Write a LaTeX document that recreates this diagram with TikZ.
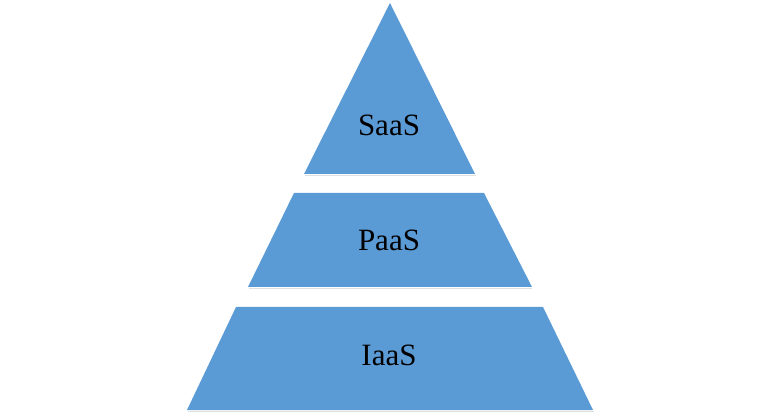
\documentclass[tikz,border=0pt]{standalone}
\usepackage{fontspec}
\setmainfont{Liberation Serif}
\definecolor{tierblue}{HTML}{5B9BD5}
\begin{document}
\begin{tikzpicture}[x=1pt,y=-1pt,
  tier/.style={fill=tierblue,draw=none},
  lbl/.style={font=\fontsize{31}{36}\selectfont,text=black}]
\useasboundingbox (0,0) rectangle (781,419);
\fill[black!12] (305,175) -- (476,175) -- (476,176) -- (305,176) -- cycle;
\fill[black!12] (249,288) -- (532,288) -- (532,289) -- (249,289) -- cycle;
\fill[black!12] (188,411) -- (594,411) -- (594,412) -- (188,412) -- cycle;
\path[tier] (390,3) -- (475,174) -- (304,174) -- cycle;
\path[tier] (294,193) -- (484,193) -- (532,287) -- (248,287) -- cycle;
\path[tier] (236,307) -- (543,307) -- (593,410) -- (187,410) -- cycle;
\node[lbl] (saas) at (389,125) {SaaS};
\node[lbl] (paas) at (389,240) {PaaS};
\node[lbl] (iaas) at (389,355) {IaaS};
\end{tikzpicture}
\end{document}
